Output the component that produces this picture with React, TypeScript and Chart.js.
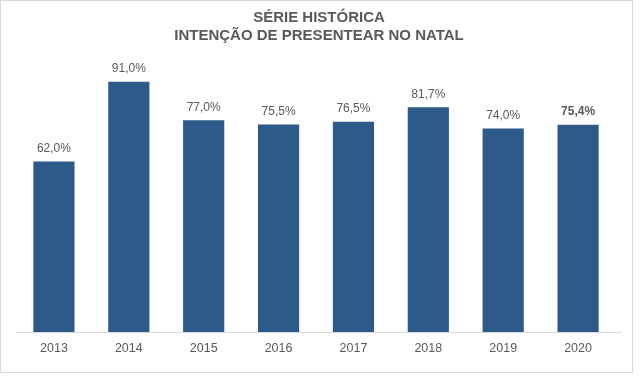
import React, { useEffect, useRef } from "react";
import { Chart, registerables } from "chart.js";

Chart.register(...registerables);

const categories = ["2013", "2014", "2015", "2016", "2017", "2018", "2019", "2020"];
const values = [62.0, 91.0, 77.0, 75.5, 76.5, 81.7, 74.0, 75.4];
const valueLabels = ["62,0%", "91,0%", "77,0%", "75,5%", "76,5%", "81,7%", "74,0%", "75,4%"];
const boldLabels = [false, false, false, false, false, false, false, true];
const titleLines = ["SÉRIE HISTÓRICA", "INTENÇÃO DE PRESENTEAR NO NATAL"];

const FONT = "'Liberation Sans', Arial, sans-serif";
const GRAY = "#595959";

const decorPlugin = {
  id: "decor",
  beforeDraw(chart: any) {
    const { ctx, width, height } = chart;
    ctx.save();
    ctx.fillStyle = "#ffffff";
    ctx.fillRect(0, 0, width, height);
    ctx.strokeStyle = "#d9d9d9";
    ctx.lineWidth = 1;
    ctx.strokeRect(0.5, 0.5, 632, 372);
    ctx.restore();
  },
  afterDatasetsDraw(chart: any) {
    const { ctx } = chart;
    ctx.save();
    // titles
    ctx.fillStyle = GRAY;
    ctx.textAlign = "center";
    ctx.textBaseline = "middle";
    ctx.font = `bold 15px ${FONT}`;
    ctx.fillText(titleLines[0], 319, 18);
    ctx.fillText(titleLines[1], 319, 36);
    // axis line
    const ya = chart.scales.y;
    const yb = Math.round(ya.getPixelForValue(0)) + 0.5;
    ctx.strokeStyle = "#d9d9d9";
    ctx.beginPath();
    ctx.moveTo(16, yb);
    ctx.lineTo(622, yb);
    ctx.stroke();
    // value labels
    const meta = chart.getDatasetMeta(0);
    meta.data.forEach((bar: any, i: number) => {
      ctx.font = `${boldLabels[i] ? "bold " : ""}12px ${FONT}`;
      ctx.fillStyle = GRAY;
      ctx.textBaseline = "middle";
      ctx.fillText(valueLabels[i], bar.x, bar.y - 13);
    });
    ctx.restore();
  },
};

export default function App() {
  const ref = useRef<HTMLCanvasElement>(null);
  useEffect(() => {
    document.body.style.margin = "0";
    const chart = new Chart(ref.current!, {
      type: "bar",
      data: {
        labels: categories,
        datasets: [
          {
            data: values,
            backgroundColor: "#2D5A88",
            categoryPercentage: 1,
            barPercentage: 0.55,
          },
        ],
      },
      options: {
        animation: false,
        responsive: false,
        layout: { padding: { top: 57, left: 16.5, right: 24.5, bottom: 14 } },
        plugins: { legend: { display: false }, title: { display: false }, tooltip: { enabled: false } },
        scales: {
          x: {
            grid: { display: false, drawTicks: false },
            border: { display: false },
            ticks: { color: GRAY, font: { family: FONT, size: 12.5 }, padding: 9 },
          },
          y: { display: false, min: 0, max: 100 },
        },
      },
      plugins: [decorPlugin],
    });
    return () => chart.destroy();
  }, []);
  return (
    <div style={{ width: 640, height: 379 }}>
      <canvas ref={ref} width={640} height={379} style={{ display: "block" }} />
    </div>
  );
}
